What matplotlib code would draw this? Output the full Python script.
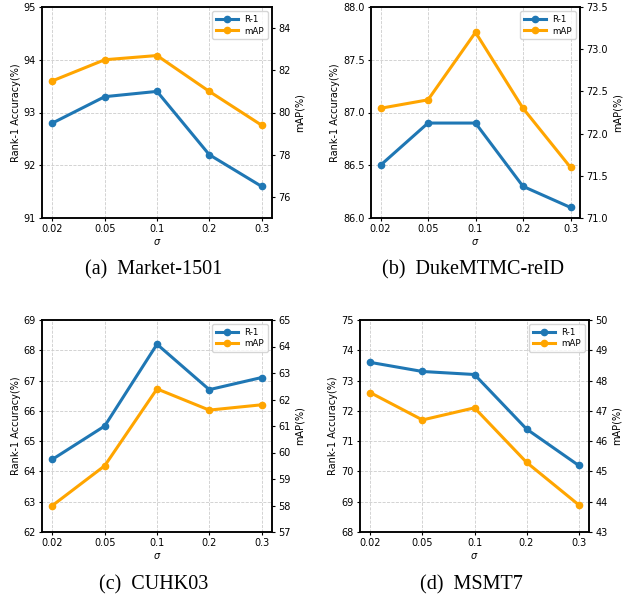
import numpy as np
import matplotlib.pyplot as plt

# sigma values (categorical x axis)
sigmas = ['0.02', '0.05', '0.1', '0.2', '0.3']

# Rank-1 / mAP for each dataset
market_r1 = [92.8, 93.3, 93.4, 92.2, 91.6]
market_map = [81.5, 82.5, 82.7, 81.0, 79.4]
duke_r1 = [86.5, 86.9, 86.9, 86.3, 86.1]
duke_map = [72.3, 72.4, 73.2, 72.3, 71.6]
cuhk_r1 = [64.4, 65.5, 68.2, 66.7, 67.1]
cuhk_map = [58.0, 59.5, 62.4, 61.6, 61.8]
msmt_r1 = [73.6, 73.3, 73.2, 71.4, 70.2]
msmt_map = [47.6, 46.7, 47.1, 45.3, 43.9]

captions = ['(a)  Market-1501', '(b)  DukeMTMC-reID', '(c)  CUHK03', '(d)  MSMT7']

# axes rectangles in pixels: left, top, right, bottom
W, H = 629, 598
boxes = [(42, 7, 272, 218), (371, 7, 580, 218), (42, 320, 272, 532), (360, 320, 589, 532)]
left_lims = [(91, 95), (86, 88), (62, 69), (68, 75)]
right_lims = [(75, 85), (71, 73.5), (57, 65), (43, 50)]
left_ticks = [np.arange(91, 95.1, 1), np.arange(86, 88.01, 0.5), np.arange(62, 69.1, 1), np.arange(68, 75.1, 1)]
right_ticks = [np.arange(76, 84.1, 2), np.arange(71, 73.51, 0.5), np.arange(57, 65.1, 1), np.arange(43, 50.1, 1)]
left_fmt = ['%d', '%.1f', '%d', '%d']
right_fmt = ['%d', '%.1f', '%d', '%d']
caption_y = [270, 270, 585, 585]

r1_all = [market_r1, duke_r1, cuhk_r1, msmt_r1]
map_all = [market_map, duke_map, cuhk_map, msmt_map]

fig = plt.figure(figsize=(W / 100, H / 100), dpi=100)
x = np.arange(len(sigmas))

for i in range(4):
    l, t, r, b = boxes[i]
    ax = fig.add_axes([l / W, 1 - b / H, (r - l) / W, (b - t) / H])
    ax2 = ax.twinx()

    h1, = ax.plot(x, r1_all[i], color='#1f77b4', marker='o', lw=2.2, ms=4.5, label='R-1')
    h2, = ax2.plot(x, map_all[i], color='orange', marker='o', lw=2.2, ms=4.5, label='mAP')

    ax.set_ylim(*left_lims[i])
    ax2.set_ylim(*right_lims[i])
    ax.set_yticks(left_ticks[i])
    ax2.set_yticks(right_ticks[i])
    ax.yaxis.set_major_formatter(plt.FormatStrFormatter(left_fmt[i]))
    ax2.yaxis.set_major_formatter(plt.FormatStrFormatter(right_fmt[i]))
    ax.set_xticks(x)
    ax.set_xticklabels(sigmas)
    ax.margins(x=0.05)

    ax.grid(True, linestyle='--', color='#cccccc', lw=0.6)
    ax.tick_params(labelsize=7, length=2.5, pad=2)
    ax2.tick_params(labelsize=7, length=2.5, pad=2)
    ax.set_xlabel(r'$\sigma$', fontsize=7, labelpad=2)
    ax.set_ylabel('Rank-1 Accuracy(%)', fontsize=7, labelpad=2)
    ax2.set_ylabel('mAP(%)', fontsize=7, labelpad=3)
    for s in list(ax.spines.values()) + list(ax2.spines.values()):
        s.set_linewidth(1.1)

    ax2.legend(handles=[h1, h2], loc='upper right', fontsize=6.3, handlelength=2.5,
               borderpad=0.4, labelspacing=0.3)

    fig.text(((l + r) / 2 - 3) / W, 1 - caption_y[i] / H, captions[i],
             family='Liberation Serif', fontsize=14.5, ha='center', va='center')

fig.savefig('out.png', dpi=100)
